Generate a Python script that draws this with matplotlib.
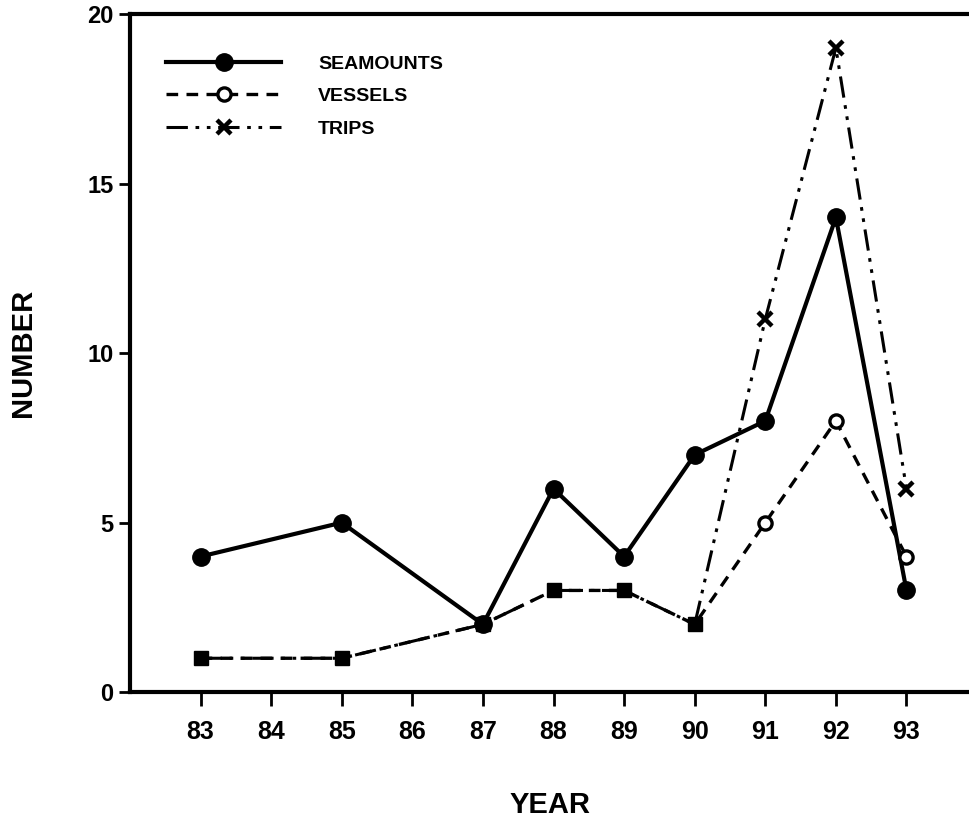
import numpy as np
import matplotlib
matplotlib.use("Agg")
import matplotlib.pyplot as plt
from matplotlib.lines import Line2D

plt.rcParams['font.family'] = ['Liberation Sans', 'DejaVu Sans']
plt.rcParams['font.weight'] = 'bold'

years = [83, 85, 87, 88, 89, 90, 91, 92, 93]
seamounts = [4, 5, 2, 6, 4, 7, 8, 14, 3]
vessels = [1, 1, 2, 3, 3, 2, 5, 8, 4]
trips = [1, 1, 2, 3, 3, 2, 11, 19, 6]
xticks = list(range(83, 94))
yticks = [0, 5, 10, 15, 20]

fig = plt.figure(figsize=(9.70, 8.24), dpi=100)
ax = fig.add_axes([0.134, 0.160, 0.866, 0.823])

x = np.array(years)
v = np.array(vessels)
t = np.array(trips)
same = v == t

trip_ls = (0, (7, 2.5, 1.2, 2.5, 1.2, 2.5))
vess_ls = (0, (3.5, 2.5))
ax.plot(x, seamounts, color='black', lw=3.0, ls='-', marker='o', ms=12.5,
        mfc='black', mec='black', zorder=4)
ax.plot(x, v, color='black', lw=2.4, ls=vess_ls, zorder=3)
ax.plot(x, t, color='black', lw=2.2, ls=trip_ls, zorder=3)
ax.plot(x[~same], v[~same], ls='none', marker='o', ms=9.5, mfc='white',
        mec='black', mew=2.4, zorder=5)
ax.plot(x[~same], t[~same], ls='none', marker='x', ms=10, mec='black',
        mew=3.2, zorder=5)
ax.plot(x[same], v[same], ls='none', marker='s', ms=9.5, mfc='black',
        mec='black', zorder=5)

ax.set_xlim(82.0, 93.9)
ax.set_ylim(0, 20)
ax.set_xticks(xticks)
ax.set_xticklabels([str(k) for k in xticks])
ax.set_yticks(yticks)
ax.tick_params(axis='x', direction='out', length=10, width=2, pad=10,
               labelsize=18)
ax.tick_params(axis='y', direction='out', length=8, width=2, pad=4,
               labelsize=17)
for lab in ax.get_xticklabels() + ax.get_yticklabels():
    lab.set_fontweight('bold')
for s in ['left', 'bottom', 'top']:
    ax.spines[s].set_linewidth(3)
ax.spines['right'].set_visible(False)

ax.set_xlabel('YEAR', fontsize=21, fontweight='bold', labelpad=34)
ax.set_ylabel('NUMBER', fontsize=21, fontweight='bold', labelpad=36)

handles = [
    Line2D([], [], color='black', lw=3.0, marker='o', ms=12.5, mfc='black'),
    Line2D([], [], color='black', lw=2.4, ls=vess_ls, marker='o',
           ms=9.5, mfc='white', mew=2.4),
    Line2D([], [], color='black', lw=2.2, ls=trip_ls, marker='x', ms=10,
           mew=3.2),
]
leg = ax.legend(handles, ['SEAMOUNTS', 'VESSELS', 'TRIPS'],
                loc='upper left', bbox_to_anchor=(0.0225, 0.9655),
                frameon=False, handlelength=5.9, handletextpad=1.9,
                labelspacing=0.77, borderpad=0.4,
                prop={'size': 14, 'weight': 'bold'})

fig.savefig('out.png', dpi=100)
